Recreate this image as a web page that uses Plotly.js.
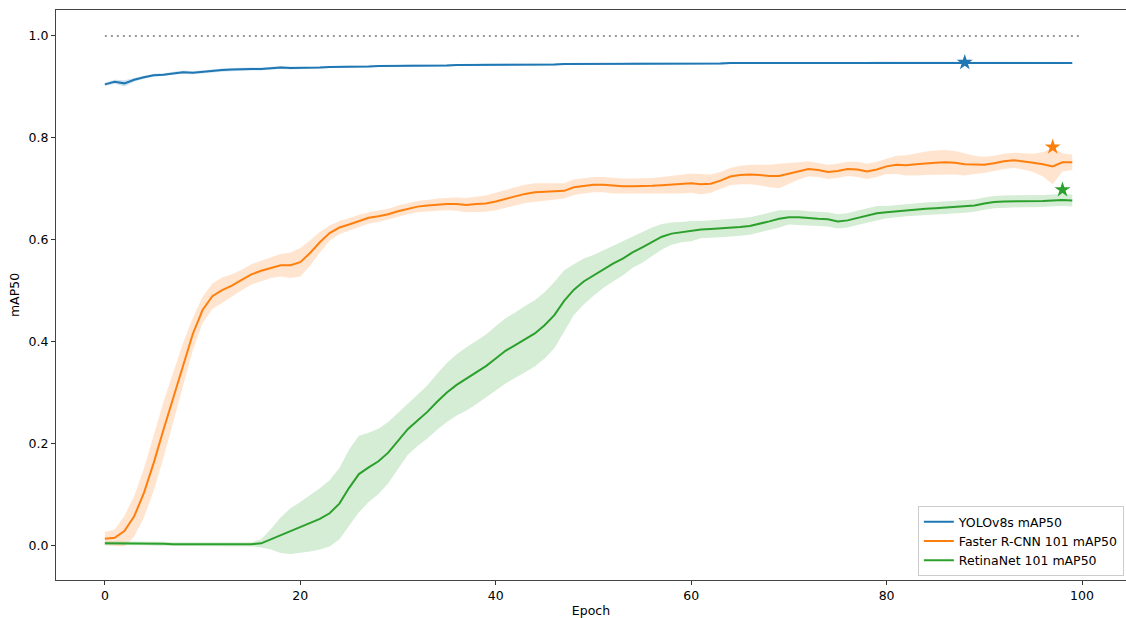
<!DOCTYPE html>
<html>
<head>
<meta charset="utf-8">
<script src="https://cdn.plot.ly/plotly-3.0.1.min.js"></script>
<style>html,body{margin:0;padding:0;background:#fff;}#chart{width:1126px;height:618px;}</style>
</head>
<body>
<div id="chart"></div>
<script>
const epochs = Array.from({length: 100}, (_, i) => i);

const seriesNames = ["YOLOv8s mAP50", "Faster R-CNN 101 mAP50", "RetinaNet 101 mAP50"];

const yoloMean = [
  0.905,0.910,0.907,0.914,0.919,0.923,0.924,0.927,0.929,0.928,
  0.930,0.931,0.933,0.934,0.935,0.935,0.935,0.936,0.938,0.937,
  0.937,0.937,0.938,0.939,0.939,0.940,0.940,0.940,0.941,0.941,
  0.941,0.942,0.942,0.942,0.942,0.942,0.943,0.943,0.943,0.944,
  0.944,0.944,0.944,0.944,0.944,0.944,0.944,0.945,0.945,0.945,
  0.945,0.945,0.945,0.945,0.946,0.946,0.946,0.946,0.946,0.946,
  0.946,0.946,0.946,0.946,0.947,0.947,0.947,0.947,0.947,0.947,
  0.947,0.947,0.947,0.947,0.947,0.947,0.947,0.947,0.947,0.948,
  0.948,0.948,0.948,0.948,0.948,0.948,0.948,0.948,0.948,0.947,
  0.947,0.947,0.947,0.947,0.947,0.947,0.947,0.947,0.947,0.947
];
const yoloSpread = [
  0.003,0.004,0.006,0.004,0.003,0.003,0.003,0.003,0.003,0.003,
  0.003,0.003,0.003,0.003,0.003,0.003,0.003,0.003,0.003,0.003,
  0.002,0.002,0.002,0.002,0.002,0.002,0.002,0.002,0.002,0.002,
  0.002,0.002,0.002,0.002,0.002,0.002,0.002,0.002,0.002,0.002,
  0.002,0.002,0.002,0.002,0.002,0.002,0.002,0.002,0.002,0.002,
  0.002,0.002,0.002,0.002,0.002,0.002,0.002,0.002,0.002,0.002,
  0.002,0.002,0.002,0.002,0.002,0.002,0.002,0.002,0.002,0.002,
  0.002,0.002,0.002,0.002,0.002,0.002,0.002,0.002,0.002,0.002,
  0.002,0.002,0.002,0.002,0.002,0.002,0.002,0.002,0.002,0.002,
  0.002,0.002,0.002,0.002,0.002,0.002,0.002,0.002,0.002,0.002
];

const frcnnMean = [
  0.013,0.015,0.028,0.057,0.103,0.162,0.227,0.290,0.355,0.415,
  0.462,0.489,0.501,0.510,0.521,0.532,0.539,0.545,0.550,0.550,
  0.556,0.574,0.595,0.613,0.624,0.630,0.637,0.643,0.646,0.650,
  0.656,0.661,0.665,0.667,0.669,0.670,0.670,0.668,0.670,0.671,
  0.675,0.680,0.685,0.690,0.693,0.694,0.695,0.696,0.703,0.706,
  0.708,0.708,0.706,0.705,0.705,0.705,0.706,0.707,0.708,0.709,
  0.711,0.709,0.710,0.716,0.724,0.727,0.728,0.727,0.725,0.725,
  0.730,0.735,0.739,0.737,0.733,0.735,0.739,0.738,0.734,0.738,
  0.744,0.747,0.746,0.748,0.750,0.751,0.752,0.751,0.748,0.747,
  0.747,0.750,0.754,0.756,0.754,0.751,0.748,0.744,0.752,0.752
];
const frcnnSpread = [
  0.013,0.016,0.030,0.040,0.048,0.055,0.055,0.050,0.042,0.032,
  0.026,0.025,0.025,0.022,0.020,0.020,0.020,0.020,0.022,0.025,
  0.028,0.025,0.020,0.015,0.013,0.012,0.012,0.011,0.011,0.011,
  0.011,0.011,0.011,0.011,0.012,0.012,0.013,0.014,0.015,0.016,
  0.017,0.018,0.018,0.018,0.018,0.017,0.016,0.015,0.015,0.015,
  0.015,0.015,0.015,0.015,0.015,0.015,0.015,0.016,0.017,0.018,
  0.019,0.020,0.018,0.017,0.017,0.018,0.019,0.020,0.022,0.024,
  0.020,0.017,0.015,0.014,0.014,0.014,0.014,0.015,0.015,0.015,
  0.015,0.018,0.020,0.022,0.023,0.024,0.024,0.023,0.022,0.018,
  0.016,0.015,0.015,0.015,0.016,0.018,0.024,0.035,0.018,0.015
];

const retinaMean = [
  0.004,0.004,0.004,0.004,0.004,0.003,0.003,0.002,0.002,0.002,
  0.002,0.002,0.002,0.002,0.002,0.002,0.004,0.012,0.020,0.028,
  0.035,0.043,0.052,0.063,0.082,0.113,0.140,0.153,0.165,0.182,
  0.205,0.228,0.245,0.262,0.282,0.300,0.315,0.327,0.339,0.352,
  0.367,0.382,0.393,0.405,0.416,0.432,0.452,0.480,0.502,0.518,
  0.530,0.542,0.553,0.563,0.575,0.585,0.596,0.606,0.612,0.615,
  0.617,0.620,0.621,0.622,0.623,0.625,0.627,0.631,0.636,0.641,
  0.644,0.644,0.642,0.641,0.640,0.636,0.638,0.643,0.648,0.652,
  0.654,0.656,0.658,0.660,0.661,0.662,0.663,0.664,0.665,0.667,
  0.671,0.674,0.675,0.675,0.676,0.676,0.676,0.677,0.678,0.677
];
const retinaSpread = [
  0.004,0.004,0.004,0.004,0.004,0.004,0.004,0.004,0.004,0.004,
  0.004,0.004,0.004,0.004,0.004,0.004,0.008,0.020,0.035,0.045,
  0.050,0.055,0.060,0.065,0.070,0.075,0.075,0.068,0.064,0.060,
  0.055,0.050,0.050,0.052,0.055,0.058,0.060,0.062,0.062,0.062,
  0.063,0.064,0.064,0.065,0.065,0.065,0.065,0.060,0.050,0.045,
  0.040,0.037,0.035,0.033,0.030,0.030,0.028,0.025,0.022,0.020,
  0.020,0.017,0.017,0.017,0.017,0.017,0.017,0.017,0.017,0.017,
  0.014,0.014,0.014,0.014,0.014,0.014,0.014,0.014,0.014,0.014,
  0.012,0.012,0.012,0.012,0.012,0.012,0.012,0.012,0.012,0.012,
  0.012,0.012,0.012,0.012,0.012,0.012,0.012,0.012,0.012,0.012
];

const bestEpoch = [88, 97, 98];
const bestValue = [0.948, 0.782, 0.698];

const referenceX = [0, 100];
const referenceY = [1.0, 1.0];

const xTicks = [0, 20, 40, 60, 80, 100];
const yTicks = [0.0, 0.2, 0.4, 0.6, 0.8, 1.0];

const colors = ["#1f77b4", "#ff7f0e", "#2ca02c"];
const bandColors = ["rgba(31,119,180,0.2)", "rgba(255,127,14,0.2)", "rgba(44,160,44,0.2)"];
const means = [yoloMean, frcnnMean, retinaMean];
const spreads = [yoloSpread, frcnnSpread, retinaSpread];

const traces = [];
traces.push({
  x: referenceX, y: referenceY, mode: "lines", showlegend: false, hoverinfo: "skip",
  line: {color: "#999999", width: 2, dash: "2px,4px"}
});
for (let s = 0; s < 3; s++) {
  const upper = means[s].map((v, i) => v + spreads[s][i]);
  const lower = means[s].map((v, i) => v - spreads[s][i]);
  traces.push({
    x: epochs.concat(epochs.slice().reverse()),
    y: upper.concat(lower.slice().reverse()),
    fill: "toself", fillcolor: bandColors[s], mode: "lines",
    line: {width: 0, color: "rgba(0,0,0,0)"}, showlegend: false, hoverinfo: "skip"
  });
}
for (let s = 0; s < 3; s++) {
  traces.push({
    x: epochs, y: means[s], mode: "lines", name: seriesNames[s],
    line: {color: colors[s], width: 2}
  });
}
for (let s = 0; s < 3; s++) {
  traces.push({
    x: [bestEpoch[s]], y: [bestValue[s]], mode: "markers", showlegend: false,
    marker: {symbol: "star", size: 12, color: colors[s], line: {width: 0}}
  });
}

const font = {family: "DejaVu Sans, sans-serif", size: 12.5, color: "#000"};
const layout = {
  width: 1126, height: 618,
  margin: {l: 56, r: 0, t: 10, b: 38, pad: 0},
  paper_bgcolor: "#fff", plot_bgcolor: "#fff",
  font: font,
  showlegend: true,
  xaxis: {
    range: [-5, 104.5], tickvals: xTicks, ticktext: xTicks.map(String),
    ticks: "outside", ticklen: 4, tickwidth: 1, tickcolor: "#333",
    showgrid: false, zeroline: false, showline: true, linecolor: "#444", linewidth: 1, mirror: true,
    automargin: false,
    title: {text: "Epoch", font: font, standoff: 8}
  },
  yaxis: {
    range: [-0.068, 1.051], tickvals: yTicks, ticktext: yTicks.map(v => v.toFixed(1)),
    ticks: "outside", ticklen: 4, tickwidth: 1, tickcolor: "#333",
    showgrid: false, zeroline: false, showline: true, linecolor: "#444", linewidth: 1, mirror: false,
    automargin: false,
    title: {text: "mAP50", font: font, standoff: 6}
  },
  legend: {
    x: 0.998, y: 0.007, xanchor: "right", yanchor: "bottom",
    bgcolor: "rgba(255,255,255,0.8)", bordercolor: "#cccccc", borderwidth: 1,
    font: font, itemwidth: 30, tracegroupgap: 0
  }
};

Plotly.newPlot("chart", traces, layout, {displayModeBar: false, staticPlot: true});
</script>
</body>
</html>
